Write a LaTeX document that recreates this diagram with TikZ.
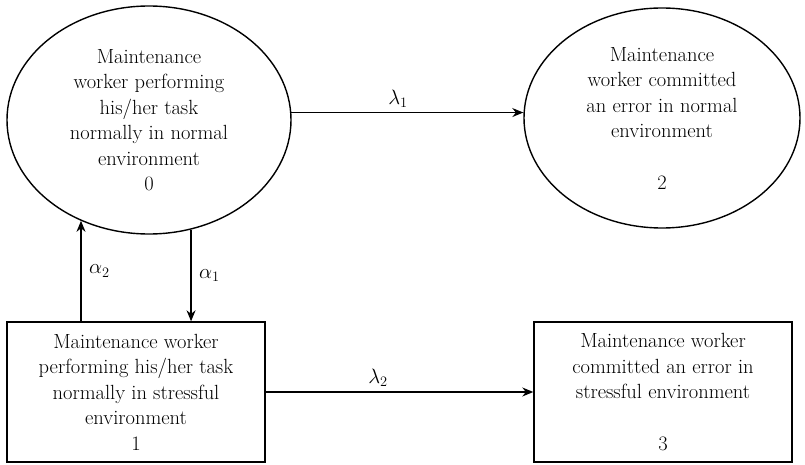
\documentclass[tikz,border=0pt]{standalone}
\usetikzlibrary{arrows.meta,shapes.geometric}
\tikzset{
  st/.style    ={draw=black,line width=1.4pt,align=center,inner sep=0pt,
                 font=\fontsize{20.5}{25.5}\selectfont},
  stell/.style ={st,ellipse},
  stbox/.style ={st,rectangle},
  ed/.style    ={->,draw=black,line width=1.2pt},
  ann/.style   ={font=\fontsize{20.5}{24}\selectfont,inner sep=1.5pt},
}

\begin{document}
\begin{tikzpicture}[
  >={Stealth[length=11pt,width=9pt]},
  x=1pt, y=-1pt,
]
\useasboundingbox (0,0) rectangle (805,465);

\node[stell,minimum width=284pt,minimum height=228pt] (s0) at (149,120)
  {Maintenance\\worker performing\\his/her task\\normally in normal\\environment\\0};
\node[stell,minimum width=276pt,minimum height=220pt] (s2) at (662,118)
  {Maintenance\\worker committed\\an error in normal\\environment\\[26pt]2};
\node[stbox,minimum width=258pt,minimum height=140pt] (s1) at (136,392)
  {Maintenance worker\\performing his/her task\\normally in stressful\\environment\\1};
\node[stbox,minimum width=258pt,minimum height=140pt] (s3) at (663,392)
  {Maintenance worker\\committed an error in\\stressful environment\\[26pt]3};

\draw[ed] (s0.3) -- (s0.3 -| s2.west) node[ann,above=3pt,pos=.46] {$\lambda_1$};
\draw[ed] (s1) -- (s3) node[ann,above=3pt,pos=.42] {$\lambda_2$};

%% transitions between normal and stressful environment
\draw[ed] (s1.north -| s0.236.3) -- (s0.236.3) node[ann,right=6pt,midway] {$\alpha_2$};
\draw[ed] (s0.291.6) -- (s1.north -| s0.291.6) node[ann,right=6pt,midway] {$\alpha_1$};

\end{tikzpicture}
\end{document}
